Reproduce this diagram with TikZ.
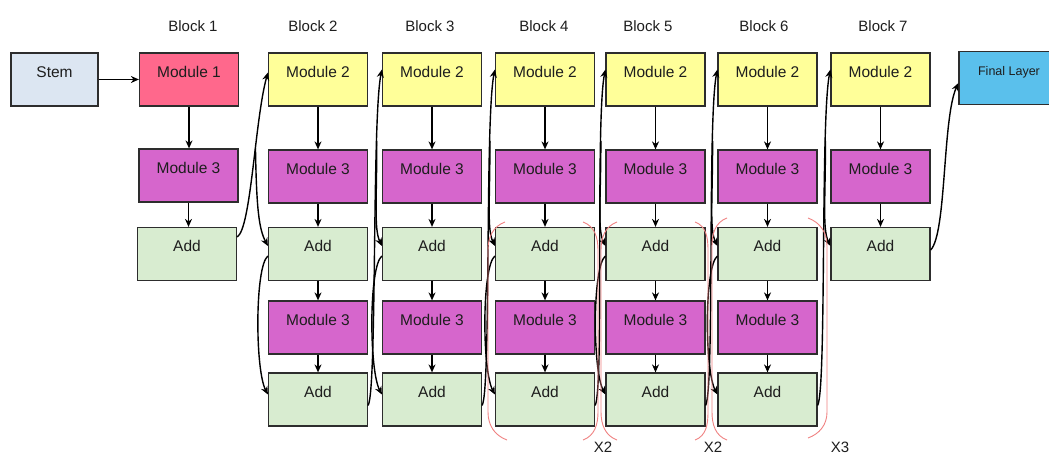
\documentclass[tikz,border=0pt]{standalone}
\usepackage{fontspec}
\setmainfont{Liberation Sans}
\usetikzlibrary{calc,arrows.meta}
\definecolor{stemc}{RGB}{220,230,242}
\definecolor{m1c}{RGB}{255,104,140}
\definecolor{m2c}{RGB}{255,255,153}
\definecolor{m3c}{RGB}{214,102,204}
\definecolor{addc}{RGB}{216,236,208}
\definecolor{finc}{RGB}{90,192,236}
\definecolor{bordc}{RGB}{45,45,45}
\definecolor{txtc}{RGB}{30,30,30}
\definecolor{parc}{RGB}{240,130,130}
\begin{document}
\begin{tikzpicture}[x=1pt,y=-1pt,
  box/.style={draw=bordc,line width=1.2pt,minimum width=99pt,minimum height=53pt,inner sep=0pt,
    text height=11pt,text depth=15pt,text=txtc,font=\fontsize{15.5}{18}\selectfont},
  ttl/.style={text=txtc,font=\fontsize{15}{18}\selectfont,inner sep=0pt},
  arr/.style={-{Stealth[length=8pt,width=7pt]},line width=1.4pt,black},
  paren/.style={draw=parc,line width=0.9pt},
  ]
\useasboundingbox (0,0) rectangle (1049,454);
\fill[white] (0,0) rectangle (1049,454);

% titles
\node[ttl] (t1) at (193,26) {Block 1};
\node[ttl] (t2) at (313,26) {Block 2};
\node[ttl] (t3) at (430,26) {Block 3};
\node[ttl] (t4) at (544,26) {Block 4};
\node[ttl] (t5) at (648,26) {Block 5};
\node[ttl] (t6) at (764,26) {Block 6};
\node[ttl] (t7) at (883,26) {Block 7};

% stem and block 1
\node[box,fill=stemc,minimum width=87pt] (stem) at (54.5,79.5) {Stem};
\node[box,fill=m1c] (m1b1) at (189,79.5) {Module 1};
\node[box,fill=m3c] (m3b1) at (188.5,175.5) {Module 3};
\node[box,fill=addc] (aAb1) at (187,254) {Add};
\draw[arr] (stem) -- (m1b1);
\draw[arr] (m1b1.south) -- (m1b1.south|-m3b1.north);
\draw[arr] (m3b1.south) -- (m3b1.south|-aAb1.north);

% blocks 2-6
\foreach \i/\x in {2/318,3/432,4/545,5/655.5,6/767.5}{
  \node[box,fill=m2c] (m2b\i) at (\x,79.5) {Module 2};
  \node[box,fill=m3c] (m3b\i) at (\x,176.5) {Module 3};
  \node[box,fill=addc] (aAb\i) at (\x,254) {Add};
  \node[box,fill=m3c] (n3b\i) at (\x,327.5) {Module 3};
  \node[box,fill=addc] (aBb\i) at (\x,399.5) {Add};
  \draw[arr] (m2b\i) -- (m3b\i);
  \draw[arr] (m3b\i) -- (aAb\i);
  \draw[arr] (aAb\i) -- (n3b\i);
  \draw[arr] (n3b\i) -- (aBb\i);
  \draw[arr] ($(aAb\i.west)+(0,2)$) .. controls ($(aAb\i.west)+(-13,12)$) and ($(aBb\i.west)+(-13,-30)$) .. ($(aBb\i.west)+(0,-5)$);
}

% block 7 and final
\node[box,fill=m2c] (m2b7) at (880.5,79.5) {Module 2};
\node[box,fill=m3c] (m3b7) at (880.5,176.5) {Module 3};
\node[box,fill=addc] (aAb7) at (880.5,254) {Add};
\draw[arr] (m2b7) -- (m3b7);
\draw[arr] (m3b7) -- (aAb7);
\node[box,fill=finc,minimum width=100pt,font=\fontsize{12.5}{15}\selectfont,text height=9pt,text depth=13pt] (final) at (1009,78) {Final Layer};

% block 1 -> block 2
\draw[arr] ($(aAb1.east)+(0,-17)$) .. controls ($(aAb1.east)+(14,-25)$) and ($(m2b2.west)+(-13,40)$) .. coordinate[pos=0.6] (jn1) ($(m2b2.west)+(0,-7)$);
\draw[arr] (jn1) .. controls ($(jn1)+(1,60)$) and ($(aAb2.west)+(-9,-25)$) .. ($(aAb2.west)+(0,-8)$);

% block i -> block j
\foreach \i/\j in {2/3,3/4,4/5,5/6,6/7}{
  \draw[arr] ($(aBb\i.east)+(0,6)$) .. controls ($(aBb\i.east)+(9,-10)$) and ($(m2b\j.west)+(-10,40)$) .. coordinate[pos=0.75] (jn\i) ($(m2b\j.west)+(0,-10)$);
  \draw[arr] (jn\i) .. controls ($(jn\i)+(0,60)$) and ($(aAb\j.west)+(-8,-25)$) .. ($(aAb\j.west)+(0,-8)$);
}

% block 7 -> final
\draw[arr] ($(aAb7.east)+(0,-4)$) .. controls ($(aAb7.east)+(16,-20)$) and ($(final.west)+(-16,40)$) .. ($(final.west)+(0,5)$);

% repeat brackets
\draw[paren] (505,222) to[out=200,in=90] (488,250) -- (488,412) to[out=-90,in=160] (507,440);
\draw[paren] (583,222) to[out=-20,in=90] (598,250) -- (598,412) to[out=-90,in=20] (583,440);
\draw[paren] (617,222) to[out=200,in=90] (601,250) -- (601,412) to[out=-90,in=160] (617,440);
\draw[paren] (695,222) to[out=-20,in=90] (708,250) -- (708,412) to[out=-90,in=20] (695,440);
\draw[paren] (727,218) to[out=200,in=90] (712,246) -- (712,412) to[out=-90,in=160] (727,440);
\draw[paren] (808,218) to[out=-20,in=90] (827,246) -- (827,412) to[out=-90,in=20] (808,438);
\node[ttl] (x1) at (603,447) {X2};
\node[ttl] (x2) at (713,447) {X2};
\node[ttl] (x3) at (840,447) {X3};
\end{tikzpicture}
\end{document}
